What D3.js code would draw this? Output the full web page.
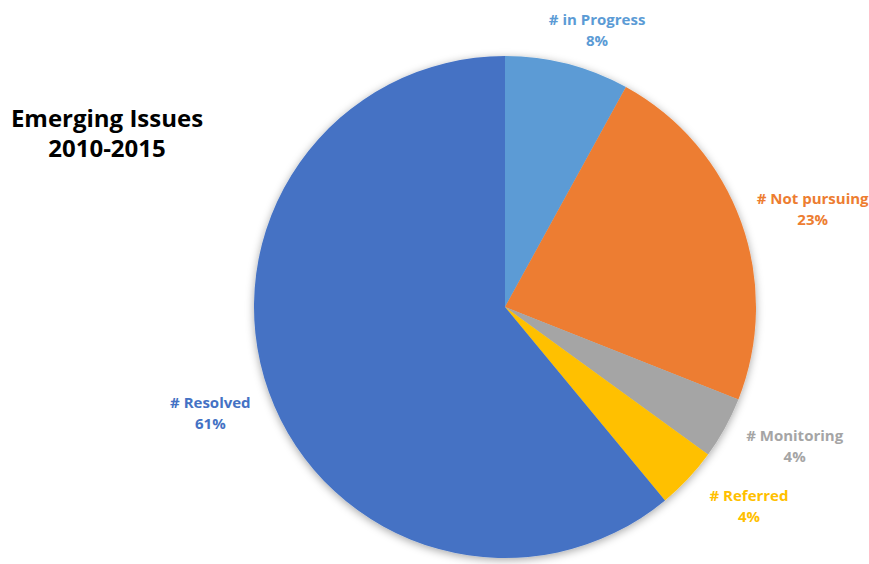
<!DOCTYPE html>
<html>
<head>
<meta charset="utf-8">
<script src="https://cdn.jsdelivr.net/npm/d3@7"></script>
<style>
  body { margin: 0; background: #fff; }
  text { font-family: "Open Sans", "Liberation Sans", sans-serif; font-weight: bold; }
</style>
</head>
<body>
<div id="chart"></div>
<script>
// data
var categories = ["# in Progress", "# Not pursuing", "# Monitoring", "# Referred", "# Resolved"];
var shares = [8, 23, 4, 4, 61];
var colors = ["#5B9BD5", "#ED7D31", "#A5A5A5", "#FFC000", "#4472C4"];
var titleLines = ["Emerging Issues", "2010-2015"];

var width = 869, height = 564;
var cx = 505, cy = 307, radius = 251;

var svg = d3.select("#chart").append("svg")
  .attr("width", width)
  .attr("height", height);

// soft shadow like the office chart
var defs = svg.append("defs");
var f = defs.append("filter").attr("id", "shadow")
  .attr("x", "-10%").attr("y", "-10%").attr("width", "120%").attr("height", "120%");
f.append("feDropShadow")
  .attr("dx", 0).attr("dy", 2)
  .attr("stdDeviation", 4)
  .attr("flood-color", "#000")
  .attr("flood-opacity", 0.35);

var pieData = categories.map(function(c, i) { return {name: c, value: shares[i], color: colors[i]}; });

var pie = d3.pie().sort(null).value(function(d) { return d.value; });
var arc = d3.arc().innerRadius(0).outerRadius(radius);
var labelArc = d3.arc().innerRadius(310).outerRadius(310);

var g = svg.append("g").attr("transform", "translate(" + cx + "," + cy + ")");

g.append("g").attr("filter", "url(#shadow)")
  .selectAll("path")
  .data(pie(pieData))
  .enter().append("path")
    .attr("d", arc)
    .attr("fill", function(d) { return d.data.color; });

// small hand nudges so labels sit where excel put them
var nudge = {
  "# in Progress": [15, 21],
  "# Not pursuing": [16, 5],
  "# Monitoring": [18, -12],
  "# Referred": [18, -15],
  "# Resolved": [-3, -1]
};

var labels = g.selectAll(".lbl")
  .data(pie(pieData))
  .enter().append("text")
    .attr("class", "lbl")
    .attr("text-anchor", "middle")
    .attr("fill", function(d) { return d.data.color; })
    .attr("font-size", 15)
    .attr("transform", function(d) {
      var p = labelArc.centroid(d);
      var n = nudge[d.data.name] || [0, 0];
      return "translate(" + (p[0] + n[0]) + "," + (p[1] + n[1]) + ")";
    });

labels.append("tspan").attr("x", 0).attr("dy", "-0.2em").text(function(d) { return d.data.name; });
labels.append("tspan").attr("x", 0).attr("dy", "1.4em").text(function(d) { return d.data.value + "%"; });

// title
var title = svg.append("text")
  .attr("text-anchor", "middle")
  .attr("font-size", 24)
  .attr("fill", "#000");
title.selectAll("tspan")
  .data(titleLines)
  .enter().append("tspan")
    .attr("x", 107)
    .attr("y", function(d, i) { return 127 + i * 30; })
    .text(function(d) { return d; });
</script>
</body>
</html>
